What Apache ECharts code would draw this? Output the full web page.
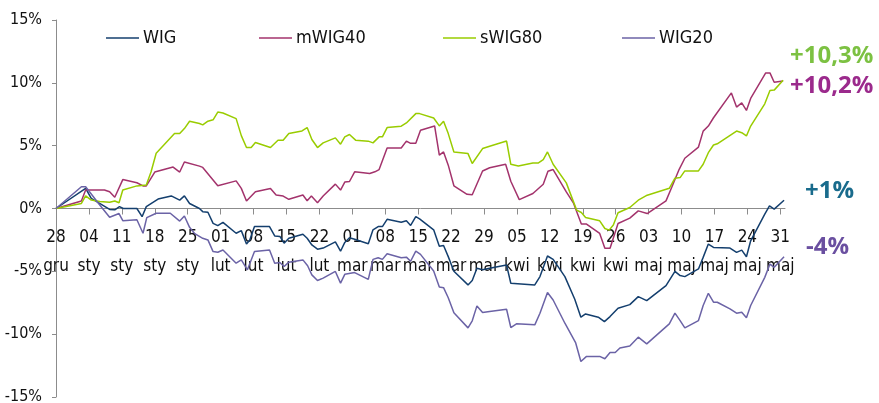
<!DOCTYPE html>
<html>
<head>
<meta charset="utf-8">
<script src="https://cdn.jsdelivr.net/npm/echarts@6/dist/echarts.min.js"></script>
<style>
  html, body { margin: 0; padding: 0; background: #fff; }
  #chart { width: 879px; height: 403px; }
</style>
</head>
<body>
<div id="chart"></div>
<script>
// x = dni od 28 gru (sesje), y = zmiana w %
var tickLabels = ['28\ngru', '04\nsty', '11\nsty', '18\nsty', '25\nsty', '01\nlut', '08\nlut', '15\nlut', '22\nlut',
  '01\nmar', '08\nmar', '15\nmar', '22\nmar', '29\nmar', '05\nkwi', '12\nkwi', '19\nkwi', '26\nkwi',
  '03\nmaj', '10\nmaj', '17\nmaj', '24\nmaj', '31\nmaj'];

var wig = [[0,0],[6.3,1.6],[7.5,0.8],[11.4,-0.07],[12.5,-0.1],[13.5,0.15],[14.3,0],[17.2,0],[18.3,-0.65],[19.2,0.15],
  [21.7,0.75],[24.5,1.0],[26.3,0.67],[27.3,1.0],[28.4,0.4],[30.5,0],[31.2,-0.25],[32.3,-0.3],[33.4,-1.18],[34.4,-1.36],
  [35.5,-1.1],[38.3,-1.97],[39.4,-1.76],[40.5,-2.82],[41.2,-2.5],[42.2,-1.44],[45.4,-1.44],[46.5,-2.18],[47.6,-2.22],
  [48.5,-2.76],[49.5,-2.37],[52.5,-2.05],[53.4,-2.37],[54.4,-2.9],[55.6,-3.24],[56.8,-3.15],[59.4,-2.66],[60.5,-3.4],
  [61.4,-2.7],[62.4,-2.33],[63.5,-2.45],[66.4,-2.8],[67.4,-1.7],[68.5,-1.44],[69.4,-1.44],[70.4,-0.86],[73.4,-1.1],
  [74.5,-0.98],[75.4,-1.35],[76.5,-0.64],[77.3,-0.82],[80.3,-1.7],[81.5,-3.0],[82.4,-2.95],[83.4,-3.83],[84.6,-5.0],
  [87.6,-6.08],[88.5,-5.73],[89.5,-4.76],[90.7,-4.88],[92.2,-4.76],[95.8,-4.5],[96.7,-5.95],[101.8,-6.08],[102.9,-5.42],
  [104.5,-3.78],[105.7,-4.05],[108.2,-5.42],[110.3,-7.22],[111.6,-8.65],[112.6,-8.39],[115.3,-8.65],[116.6,-9.0],
  [117.8,-8.6],[119.5,-7.94],[122,-7.65],[123.8,-7.01],[125.6,-7.33],[129.7,-6.14],[131.6,-5.0],[132.7,-5.34],
  [133.7,-5.42],[136.6,-4.81],[137.6,-3.89],[138.7,-2.83],[139.8,-3.1],[143.3,-3.15],[144.7,-3.49],[145.8,-3.31],
  [146.8,-3.84],[147.7,-2.57],[150.7,-0.45],[151.7,0.21],[152.7,-0.05],[154.8,0.66]];

var mwig40 = [[0,0],[5.4,0.6],[6.3,1.47],[10.3,1.47],[11.4,1.34],[12.5,0.9],[14.2,2.3],[17.2,2.05],[18.5,1.8],[19.2,1.8],
  [21,2.9],[24.9,3.3],[26.3,2.9],[27.3,3.7],[30.5,3.37],[31.2,3.27],[34.4,1.81],[38.3,2.2],[39.4,1.6],[40.5,0.59],
  [42.4,1.34],[45.6,1.6],[46.8,1.07],[48.3,0.99],[49.5,0.73],[52.5,1.07],[53.4,0.62],[54.3,0.99],[55.6,0.46],[56.8,0.99],
  [59.4,1.94],[60.5,1.47],[61.4,2.1],[62.4,2.15],[63.5,2.92],[66.7,2.79],[67.8,2.92],[68.7,3.1],[70.4,4.82],[73.4,4.82],
  [74.5,5.36],[75.3,5.2],[76.5,5.2],[77.5,6.23],[80.5,6.57],[81.5,4.24],[82.4,4.5],[83.4,3.45],[84.6,1.81],[87.4,1.13],
  [88.5,1.1],[90.7,2.98],[92.2,3.24],[95.6,3.52],[96.7,2.17],[98.5,0.71],[101.4,1.19],[103.6,1.93],[104.6,2.96],
  [105.7,3.1],[108.5,1.32],[110,0.45],[111.7,-1.24],[112.8,-1.24],[115.6,-1.98],[116.7,-3.17],[117.8,-3.17],[119.5,-1.19],
  [122,-0.77],[123.8,-0.19],[125.7,-0.4],[129.7,0.61],[130.9,1.67],[132.5,3.12],[133.7,4.0],[136.6,4.89],[137.6,6.16],
  [138.7,6.56],[139.8,7.22],[143.6,9.2],[144.7,8.07],[145.8,8.41],[146.8,7.8],[147.7,8.76],[150.9,10.79],[151.8,10.79],
  [152.7,10.05],[154.6,10.15]];

var swig80 = [[0,0],[5.4,0.4],[6.3,1.0],[7.5,0.67],[9.3,0.55],[11.4,0.5],[12.5,0.6],[13.4,0.46],[14.2,1.47],[17.2,1.8],
  [19.2,1.87],[20.2,2.9],[21.3,4.4],[25.2,5.96],[26.3,5.96],[27.3,6.36],[28.4,6.94],[30.5,6.76],[31.2,6.65],[32.3,6.95],
  [33.4,7.06],[34.4,7.67],[35.5,7.6],[38.3,7.15],[39.4,5.8],[40.5,4.85],[41.5,4.85],[42.4,5.25],[45.6,4.85],[47.2,5.43],
  [48.3,5.43],[49.5,5.96],[52.3,6.17],[53.4,6.44],[54.4,5.49],[55.6,4.85],[56.8,5.22],[59.4,5.62],[60.5,5.12],[61.4,5.7],
  [62.4,5.89],[63.7,5.44],[66.4,5.36],[67.4,5.22],[68.7,5.7],[69.4,5.7],[70.4,6.44],[73.4,6.55],[74.5,6.81],[76.5,7.55],
  [77.3,7.55],[80.3,7.2],[81.5,6.57],[82.4,6.94],[83.4,5.96],[84.6,4.5],[87.6,4.37],[88.5,3.58],[90.7,4.77],[92.2,4.96],
  [95.8,5.37],[96.7,3.52],[98.3,3.39],[101.4,3.62],[102.5,3.62],[103.6,3.89],[104.5,4.5],[105.7,3.52],[108.5,2.04],
  [110.7,-0.13],[111.7,-0.32],[112.6,-0.71],[115.6,-0.98],[116.7,-1.59],[117.6,-1.72],[118.5,-1.32],[119.5,-0.34],
  [122,0.08],[123.8,0.66],[125.7,1.06],[130.4,1.61],[131.6,2.41],[132.7,2.46],[133.7,2.99],[136.6,2.99],[137.6,3.52],
  [138.7,4.44],[139.8,5.05],[140.6,5.15],[144.7,6.16],[145.8,6.03],[146.8,5.77],[147.7,6.56],[150.7,8.33],[151.8,9.39],
  [152.7,9.42],[154.6,10.2]];

var wig20 = [[0,0],[5.4,1.73],[6.3,1.73],[9.3,0.28],[11.4,-0.7],[13.4,-0.4],[14.2,-0.97],[17.2,-0.9],[18.5,-1.97],
  [19.3,-0.73],[21.3,-0.38],[24.3,-0.38],[26.3,-1.0],[27.3,-0.6],[28.4,-1.5],[29.5,-2.0],[31.2,-2.37],[32.3,-2.5],
  [33.4,-3.43],[34.4,-3.48],[35.5,-3.3],[38.3,-4.35],[39.4,-4.09],[40.7,-4.88],[42.2,-3.43],[45.4,-3.3],[46.5,-4.35],
  [47.6,-4.3],[48.5,-4.62],[49.5,-4.27],[52.5,-4.09],[53.5,-4.56],[54.4,-5.28],[55.6,-5.73],[56.8,-5.54],[59.4,-5.01],
  [60.5,-5.94],[61.4,-5.24],[63.5,-5.1],[66.4,-5.64],[67.4,-4.05],[68.5,-3.92],[69.4,-4.05],[70.4,-3.6],[73.4,-3.92],
  [74.5,-3.87],[75.4,-4.2],[76.5,-3.39],[77.5,-3.65],[80.3,-4.97],[81.5,-6.24],[82.4,-6.3],[83.4,-7.1],[84.6,-8.3],
  [87.6,-9.5],[88.5,-8.94],[89.5,-7.75],[90.7,-8.28],[92.2,-8.2],[95.8,-8.02],[96.7,-9.47],[97.9,-9.18],[101.8,-9.26],
  [102.9,-8.33],[104.5,-6.69],[105.7,-7.28],[108.2,-9.13],[110.5,-10.7],[111.6,-12.17],[112.8,-11.77],[115.6,-11.77],
  [116.7,-11.96],[117.8,-11.46],[118.9,-11.46],[119.9,-11.1],[122,-10.95],[123.8,-10.24],[125.6,-10.77],[130.4,-9.18],
  [131.6,-8.33],[132.7,-8.92],[133.7,-9.5],[136.6,-8.92],[137.6,-7.72],[138.7,-6.75],[139.8,-7.46],[140.6,-7.46],
  [143.3,-7.99],[144.7,-8.33],[145.8,-8.25],[146.8,-8.7],[147.7,-7.72],[150.7,-5.48],[151.8,-4.42],[152.7,-4.68],
  [154.8,-3.84]];

var seriesNames = ['WIG', 'mWIG40', 'sWIG80', 'WIG20'];
var seriesColors = ['#143f6e', '#a3336c', '#99cc00', '#6b63a6'];
var seriesData = [wig, mwig40, swig80, wig20];
var legendLeft = [106, 259, 443, 622];

var fnt = '"Liberation Sans Narrow", "DejaVu Sans Condensed", "Noto Sans", sans-serif';

var gridTop = 20, gridBottom = 6, chartH = 403;
// przesunięcie osi X na poziom 0%
var zeroOffset = -((chartH - gridTop - gridBottom) / 2);

var myChart = echarts.init(document.getElementById('chart'));

var options = {
  animation: false,
  textStyle: { fontFamily: fnt },
  grid: { left: 56, right: 94, top: gridTop, bottom: gridBottom, containLabel: false, outerBoundsMode: 'none' },
  legend: seriesNames.map(function (n, i) {
    return {
      data: [n], left: legendLeft[i], top: 29, padding: 0,
      icon: 'path://M0,0 L33,0 L33,1.6 L0,1.6 Z',
      itemWidth: 33, itemHeight: 2, itemGap: 4,
      textStyle: { fontFamily: fnt, fontSize: 18, color: '#111', padding: [0, 0, 0, -1] }
    };
  }),
  xAxis: {
    type: 'value', min: 0, max: 155, interval: 7,
    position: 'bottom', offset: zeroOffset,
    axisLine: { onZero: false, lineStyle: { color: '#8c8c8c', width: 1 } },
    axisTick: { show: true, length: 6, lineStyle: { color: '#8c8c8c' } },
    splitLine: { show: false },
    axisLabel: {
      margin: 15, fontSize: 17, lineHeight: 29, color: '#111', fontFamily: fnt,
      showMaxLabel: false,
      formatter: function (v) { var i = Math.round(v / 7); return tickLabels[i] || ''; }
    }
  },
  yAxis: {
    type: 'value', min: -15, max: 15, interval: 5,
    axisLine: { show: true, lineStyle: { color: '#8c8c8c', width: 1 } },
    axisTick: { show: true, length: 4, lineStyle: { color: '#8c8c8c' } },
    splitLine: { show: false },
    axisLabel: {
      margin: 14, fontSize: 16, color: '#111', fontFamily: fnt,
      formatter: function (v) { return v + '%'; }
    }
  },
  series: seriesNames.map(function (n, i) {
    return {
      name: n, type: 'line', data: seriesData[i], symbol: 'none',
      color: seriesColors[i],
      lineStyle: { width: 1.5, color: seriesColors[i] }
    };
  }),
  graphic: [
    { type: 'text', left: 790, top: 44, style: { text: '+10,3%', fill: '#7cc142', font: 'bold 24px "Open Sans", sans-serif' } },
    { type: 'text', left: 790, top: 74, style: { text: '+10,2%', fill: '#9b2a8c', font: 'bold 24px "Open Sans", sans-serif' } },
    { type: 'text', left: 805, top: 179, style: { text: '+1%', fill: '#196b8c', font: 'bold 24px "Open Sans", sans-serif' } },
    { type: 'text', left: 806, top: 235, style: { text: '-4%', fill: '#6a4fa0', font: 'bold 24px "Open Sans", sans-serif' } }
  ]
};

myChart.setOption(options);
window.addEventListener('resize', function () { myChart.resize(); });
</script>
</body>
</html>
